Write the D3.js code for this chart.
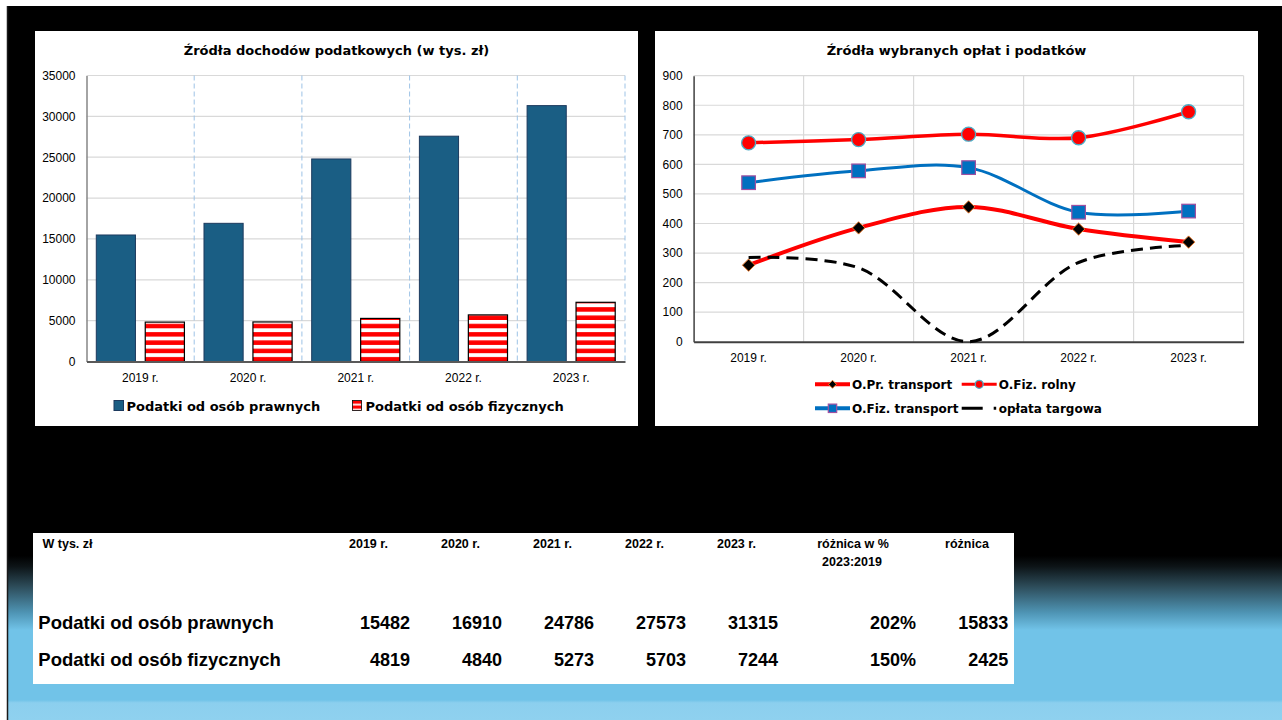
<!DOCTYPE html>
<html>
<head>
<meta charset="utf-8">
<title>Źródła dochodów podatkowych</title>
<script src="https://d3js.org/d3.v7.min.js"></script>
<style>
  body { margin: 0; padding: 0; background: #fff; }
  svg { display: block; }
  .tick text { font-family: "Liberation Sans", Arial, sans-serif; font-size: 12px; fill: #000; }
  .title { font-family: "DejaVu Sans", sans-serif; font-weight: bold; font-size: 13px; text-anchor: middle; fill: #000; }
  .legend { font-family: "DejaVu Sans", sans-serif; font-weight: bold; fill: #000; }
  .tbl { font-family: "Liberation Sans", Arial, sans-serif; font-weight: bold; fill: #000; }
</style>
</head>
<body>
<svg width="1282" height="720"></svg>
<script>
// dane
var years = ['2019 r.', '2020 r.', '2021 r.', '2022 r.', '2023 r.'];
var prawne = [15482, 16910, 24786, 27573, 31315];
var fizyczne = [4819, 4840, 5273, 5703, 7244];
var barTicks = [0, 5000, 10000, 15000, 20000, 25000, 30000, 35000];

var prTransport = [259, 385, 456, 381, 337];
var fizRolny = [673, 684, 702, 690, 778];
var fizTransport = [538, 578, 589, 438, 442];
var targowa = [285, 250, 0, 268, 326];
var lineTicks = [0, 100, 200, 300, 400, 500, 600, 700, 800, 900];

var svg = d3.select('svg');
var defs = svg.append('defs');

// tło slajdu
var grad = defs.append('linearGradient').attr('id', 'bg')
    .attr('gradientUnits', 'userSpaceOnUse')
    .attr('x1', 0).attr('y1', 6).attr('x2', 0).attr('y2', 720);
[[0, '#000'], [0.77, '#000'], [0.785, '#0d1417'], [0.812, '#2c4a57'], [0.85, '#4f95b5'],
 [0.874, '#71c3e8'], [0.972, '#71c3e8'], [0.976, '#8ccfee'], [1, '#8fd1ef']].forEach(function(s) {
    grad.append('stop').attr('offset', s[0]).attr('stop-color', s[1]);
});
svg.append('rect').attr('x', 0).attr('y', 0).attr('width', 1282).attr('height', 720).attr('fill', '#fff');
svg.append('rect').attr('x', 7).attr('y', 6).attr('width', 1275).attr('height', 714).attr('fill', 'url(#bg)');
svg.append('line').attr('x1', 7.5).attr('x2', 7.5).attr('y1', 6).attr('y2', 720)
    .attr('stroke', '#1a1a1a').attr('stroke-width', 1.5);

// wzór pasków
var pat = defs.append('pattern').attr('id', 'stripes')
    .attr('patternUnits', 'userSpaceOnUse')
    .attr('x', 0).attr('y', 361.5).attr('width', 10).attr('height', 8.3);
pat.append('rect').attr('width', 10).attr('height', 8.3).attr('fill', '#fff');
pat.append('rect').attr('y', 3.8).attr('width', 10).attr('height', 4.5).attr('fill', '#ff0000');
var pat2 = defs.append('pattern').attr('id', 'stripesSmall')
    .attr('patternUnits', 'userSpaceOnUse')
    .attr('x', 0).attr('y', 400.5).attr('width', 10).attr('height', 5);
pat2.append('rect').attr('width', 10).attr('height', 5).attr('fill', '#ff0000');
pat2.append('rect').attr('y', 3.3).attr('width', 10).attr('height', 1.8).attr('fill', '#fff');

// ---------------- wykres słupkowy ----------------
svg.append('rect').attr('x', 35).attr('y', 31).attr('width', 603).attr('height', 395).attr('fill', '#fff');
svg.append('text').attr('class', 'title').attr('x', 336.5).attr('y', 55)
    .text('Źródła dochodów podatkowych (w tys. zł)');

var x0 = d3.scaleBand().domain(years).range([86.5, 625]).padding(0);
var x1 = d3.scaleBand().domain(['prawne', 'fizyczne']).range([0, x0.bandwidth()]).padding(0.2);
var yBar = d3.scaleLinear().domain([0, 35000]).range([361.5, 75.5]);

var gBar = svg.append('g');
gBar.selectAll('.hgrid').data(barTicks.slice(1)).enter().append('line')
    .attr('x1', 86.5).attr('x2', 625)
    .attr('y1', function(d) { return yBar(d); }).attr('y2', function(d) { return yBar(d); })
    .attr('stroke', '#d9d9d9').attr('stroke-width', 1.2);
gBar.selectAll('.vgrid').data(years).enter().append('line')
    .attr('x1', function(d) { return x0(d) + x0.bandwidth(); })
    .attr('x2', function(d) { return x0(d) + x0.bandwidth(); })
    .attr('y1', 75.5).attr('y2', 361.5)
    .attr('stroke', '#9dc3e6').attr('stroke-width', 1).attr('stroke-dasharray', '5,3');

var yAxisBar = gBar.append('g').attr('transform', 'translate(86.5,0)')
    .call(d3.axisLeft(yBar).tickValues(barTicks).tickFormat(d3.format('d'))
        .tickSize(0).tickSizeOuter(0).tickPadding(11));
yAxisBar.select('.domain').attr('stroke', '#868686').attr('stroke-width', 1.5);

gBar.selectAll('.bar-p').data(prawne).enter().append('rect')
    .attr('x', function(d, i) { return x0(years[i]) + x1('prawne'); })
    .attr('y', function(d) { return yBar(d); })
    .attr('width', x1.bandwidth())
    .attr('height', function(d) { return yBar(0) - yBar(d); })
    .attr('fill', '#1a5e84').attr('stroke', '#1c3a5e').attr('stroke-width', 1);
gBar.selectAll('.bar-f').data(fizyczne).enter().append('rect')
    .attr('x', function(d, i) { return x0(years[i]) + x1('fizyczne'); })
    .attr('y', function(d) { return yBar(d); })
    .attr('width', x1.bandwidth())
    .attr('height', function(d) { return yBar(0) - yBar(d); })
    .attr('fill', 'url(#stripes)').attr('stroke', '#000').attr('stroke-width', 1.2);

var xAxisBar = gBar.append('g').attr('transform', 'translate(0,361.5)')
    .call(d3.axisBottom(x0).tickSize(0).tickSizeOuter(0).tickPadding(12));
xAxisBar.select('.domain').attr('stroke', '#595959').attr('stroke-width', 2);

// legenda
gBar.append('rect').attr('x', 114).attr('y', 400.5).attr('width', 9.5).attr('height', 10)
    .attr('fill', '#1a5e84').attr('stroke', '#1c3a5e');
gBar.append('text').attr('class', 'legend').attr('x', 126.5).attr('y', 410.5)
    .style('font-size', '13px').text('Podatki od osób prawnych');
gBar.append('rect').attr('x', 352.5).attr('y', 400.5).attr('width', 9).attr('height', 10)
    .attr('fill', 'url(#stripesSmall)').attr('stroke', '#000').attr('stroke-width', 0.8);
gBar.append('text').attr('class', 'legend').attr('x', 365.5).attr('y', 410.5)
    .style('font-size', '13px').text('Podatki od osób fizycznych');

// ---------------- wykres liniowy ----------------
svg.append('rect').attr('x', 655).attr('y', 31).attr('width', 603).attr('height', 395).attr('fill', '#fff');
svg.append('text').attr('class', 'title').attr('x', 956.5).attr('y', 55)
    .text('Źródła wybranych opłat i podatków');

var xl = d3.scaleBand().domain(years).range([693.6, 1243.6]).padding(0);
var yl = d3.scaleLinear().domain([0, 900]).range([341.7, 75.7]);
var cx = function(i) { return xl(years[i]) + xl.bandwidth() / 2; };

var gLine = svg.append('g');
gLine.selectAll('.hgrid').data(lineTicks.slice(1)).enter().append('line')
    .attr('x1', 693.6).attr('x2', 1243.6)
    .attr('y1', function(d) { return yl(d); }).attr('y2', function(d) { return yl(d); })
    .attr('stroke', '#d9d9d9').attr('stroke-width', 1.2);
gLine.selectAll('.vgrid').data(years).enter().append('line')
    .attr('x1', function(d) { return xl(d) + xl.bandwidth(); })
    .attr('x2', function(d) { return xl(d) + xl.bandwidth(); })
    .attr('y1', 75.7).attr('y2', 341.7)
    .attr('stroke', '#d9d9d9').attr('stroke-width', 1.2);

var yAxisLine = gLine.append('g').attr('transform', 'translate(693.6,0)')
    .call(d3.axisLeft(yl).tickValues(lineTicks).tickSize(0).tickSizeOuter(0).tickPadding(11));
yAxisLine.select('.domain').attr('stroke', '#404040').attr('stroke-width', 1.5);
var xAxisLine = gLine.append('g').attr('transform', 'translate(0,341.7)')
    .call(d3.axisBottom(xl).tickSize(0).tickSizeOuter(0).tickPadding(11.5));
xAxisLine.select('.domain').attr('stroke', '#404040').attr('stroke-width', 2);

var line = d3.line()
    .x(function(d, i) { return cx(i); })
    .y(function(d) { return yl(d); })
    .curve(d3.curveCatmullRom.alpha(0.5));

var series = [
    { name: 'O.Pr. transport', values: prTransport, color: '#ff0000', width: 4, marker: 'diamond', fill: '#000', mstroke: '#ed7d31' },
    { name: 'O.Fiz. rolny', values: fizRolny, color: '#ff0000', width: 3.5, marker: 'circle', fill: '#ff0000', mstroke: '#4bacc6' },
    { name: 'O.Fiz. transport', values: fizTransport, color: '#0070c0', width: 3, marker: 'square', fill: '#0070c0', mstroke: '#a04fa0' },
    { name: 'opłata targowa', values: targowa, color: '#000', width: 3, marker: null, dash: '12,7' }
];

function drawMarker(g, type, x, y, size, fill, stroke) {
    if (type === 'circle') {
        g.append('circle').attr('cx', x).attr('cy', y).attr('r', size)
            .attr('fill', fill).attr('stroke', stroke).attr('stroke-width', 1.3);
    } else if (type === 'square') {
        g.append('rect').attr('x', x - size).attr('y', y - size)
            .attr('width', size * 2).attr('height', size * 2)
            .attr('fill', fill).attr('stroke', stroke).attr('stroke-width', 1.2);
    } else if (type === 'diamond') {
        g.append('path')
            .attr('d', 'M' + x + ',' + (y - size) + 'L' + (x + size) + ',' + y + 'L' + x + ',' + (y + size) + 'L' + (x - size) + ',' + y + 'Z')
            .attr('fill', fill).attr('stroke', stroke).attr('stroke-width', 1);
    }
}

series.forEach(function(s) {
    gLine.append('path').datum(s.values)
        .attr('d', line)
        .attr('fill', 'none')
        .attr('stroke', s.color)
        .attr('stroke-width', s.width)
        .attr('stroke-dasharray', s.dash || null);
    if (s.marker) {
        var size = s.marker === 'circle' ? 7 : (s.marker === 'square' ? 6.8 : 6.2);
        s.values.forEach(function(v, i) {
            drawMarker(gLine, s.marker, cx(i), yl(v), size, s.fill, s.mstroke);
        });
    }
});

// legenda
var legPos = [[815, 384.3], [961.7, 384.3], [815, 408.3], [961.7, 408.3]];
series.forEach(function(s, k) {
    var lx = legPos[k][0], ly = legPos[k][1];
    var lg = gLine.append('g');
    lg.append('line').attr('x1', lx).attr('x2', lx + 35).attr('y1', ly).attr('y2', ly)
        .attr('stroke', s.color).attr('stroke-width', s.dash ? 3 : (s.width === 3.5 ? 3 : 4))
        .attr('stroke-dasharray', s.dash ? '21,11,2.5,20' : null);
    if (s.marker) {
        var ms = s.marker === 'circle' ? 4 : (s.marker === 'square' ? 4.2 : 4);
        drawMarker(lg, s.marker, lx + 17.5, ly, ms, s.fill, s.mstroke);
    }
    lg.append('text').attr('class', 'legend').attr('x', lx + 37).attr('y', ly + 4.3)
        .style('font-size', '12px').text(s.name);
});

// ---------------- tabela ----------------
var tbl = svg.append('g');
tbl.append('rect').attr('x', 33).attr('y', 533).attr('width', 981).attr('height', 151).attr('fill', '#fff');

var colX = d3.scaleLinear().domain([0, 4]).range([410, 778]);
var rows = [
    { label: 'Podatki od osób prawnych', values: prawne },
    { label: 'Podatki od osób fizycznych', values: fizyczne }
];
var rowY = d3.scaleLinear().domain([0, 1]).range([629, 666]);

tbl.append('text').attr('class', 'tbl').attr('x', 42.5).attr('y', 548)
    .style('font-size', '12.5px').text('W tys. zł');
years.forEach(function(y, i) {
    tbl.append('text').attr('class', 'tbl').attr('x', colX(i) - 61).attr('y', 548)
        .style('font-size', '12.5px').text(y);
});
tbl.append('text').attr('class', 'tbl').attr('x', 853).attr('y', 548)
    .attr('text-anchor', 'middle').style('font-size', '12.5px').text('różnica w %');
tbl.append('text').attr('class', 'tbl').attr('x', 852).attr('y', 566)
    .attr('text-anchor', 'middle').style('font-size', '12.5px').text('2023:2019');
tbl.append('text').attr('class', 'tbl').attr('x', 967).attr('y', 548)
    .attr('text-anchor', 'middle').style('font-size', '12.5px').text('różnica');

rows.forEach(function(r, k) {
    var by = rowY(k);
    tbl.append('text').attr('class', 'tbl').attr('x', 38.3).attr('y', by)
        .style('font-size', '18.5px').text(r.label);
    r.values.forEach(function(v, i) {
        tbl.append('text').attr('class', 'tbl').attr('x', colX(i)).attr('y', by)
            .attr('text-anchor', 'end').style('font-size', '18px').text(v);
    });
    var first = r.values[0], last = r.values[r.values.length - 1];
    tbl.append('text').attr('class', 'tbl').attr('x', 916).attr('y', by)
        .attr('text-anchor', 'end').style('font-size', '18px')
        .text(Math.round(last / first * 100) + '%');
    tbl.append('text').attr('class', 'tbl').attr('x', 1008.3).attr('y', by)
        .attr('text-anchor', 'end').style('font-size', '18px').text(last - first);
});
</script>
</body>
</html>
